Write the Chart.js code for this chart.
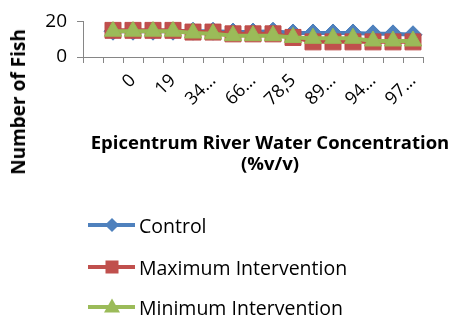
<!DOCTYPE html>
<html><head><meta charset="utf-8">
<script src="https://cdn.jsdelivr.net/npm/chart.js@4.4.0/dist/chart.umd.min.js"></script>
<style>
html,body{margin:0;padding:0;background:#fff;}
#wrap{position:relative;width:452px;height:315px;overflow:hidden;font-family:'Open Sans',sans-serif;color:#000;}
#c{position:absolute;left:0;top:0;}
#ytitle{position:absolute;left:18px;top:102px;transform:translate(-50%,-50%) rotate(-90deg);font-weight:bold;font-size:19px;white-space:nowrap;line-height:22px;}
#xtitle{position:absolute;left:270px;top:131px;transform:translateX(-50%);text-align:center;font-weight:bold;font-size:18.5px;line-height:21px;white-space:nowrap;}
.leg{position:absolute;left:88px;height:28px;display:flex;align-items:center;white-space:nowrap;font-size:19.5px;}
.ln{position:relative;width:47px;height:4px;}
.mk{position:absolute;left:50%;top:50%;}
.tx{margin-left:4px;}
</style>
</head><body>
<div id="wrap">
<canvas id="c" width="452" height="315"></canvas>
<div id="ytitle"></div>
<div id="xtitle"></div>
<div id="legend"></div>
</div>
<script>
// ---- data ----
const categories = ['', '', '0', '', '19', '', '34…', '', '66…', '', '78,5', '', '89…', '', '94…', '', '97…'];
const seriesNames = ['Control', 'Maximum Intervention', 'Minimum Intervention'];
const control =         [null, 14.5, 14.5, 14.5, 14.5, 14.5, 14.5, 14, 14, 14.5, 13.5, 13.5, 13.5, 13.5, 13, 13, 12.5];
const maxIntervention = [null, 15, 15, 15, 15, 14, 14, 13, 13, 13, 11, 8.5, 8.5, 8.5, 8.5, 8.5, 8.5];
const minIntervention = [null, 14.5, 14.5, 14.5, 14.5, 13.5, 13, 12, 12, 12, 11, 10.5, 10.5, 10.5, 9, 9, 9];
const yTicks = [0, 20];
const yAxisTitle = 'Number of Fish';
const xAxisTitle = ['Epicentrum River Water Concentration', '(%v/v)'];

// ---- styling ----
const colors = ['#4F81BD', '#C0504D', '#9BBB59'];
const borders = ['#4A7EBB', '#BE4B48', '#98B954'];
const styles = ['rectRot', 'rect', 'triangle'];
const radii = [9, 11.3, 10];
const axisColor = '#868686';

const datasets = [control, maxIntervention, minIntervention].map((d, i) => ({
  label: seriesNames[i],
  data: d,
  borderColor: borders[i],
  backgroundColor: colors[i],
  pointBackgroundColor: colors[i],
  pointBorderColor: borders[i],
  pointBorderWidth: 1,
  pointStyle: styles[i],
  pointRadius: radii[i],
  borderWidth: 4,
  tension: 0,
  order: 2 - i
}));

new Chart(document.getElementById('c'), {
  type: 'line',
  data: { labels: categories, datasets },
  options: {
    responsive: false,
    devicePixelRatio: 1,
    animation: false,
    layout: { padding: { top: 20, right: 29, left: 0, bottom: 0 } },
    plugins: { legend: { display: false }, tooltip: { enabled: false } },
    scales: {
      x: {
        type: 'category',
        offset: true,
        grid: { offset: true, drawOnChartArea: false, drawTicks: true, tickLength: 6, color: axisColor },
        border: { display: true, color: axisColor, width: 1 },
        ticks: {
          autoSkip: false, maxRotation: 45, minRotation: 45, padding: 7,
          color: '#000', font: { family: 'Open Sans', size: 18 }
        },
        afterFit: s => { s.height = 258; }
      },
      y: {
        min: yTicks[0], max: yTicks[yTicks.length - 1],
        afterBuildTicks: s => { s.ticks = yTicks.map(v => ({ value: v })); },
        grid: { drawOnChartArea: false, drawTicks: true, tickLength: 6, color: axisColor },
        border: { display: true, color: axisColor, width: 1 },
        ticks: { padding: 10, color: '#000', font: { family: 'Open Sans', size: 19 } },
        afterFit: s => { s.width = 83; }
      }
    }
  }
});

document.getElementById('ytitle').textContent = yAxisTitle;
document.getElementById('xtitle').innerHTML = xAxisTitle.map(t => '<div>' + t + '</div>').join('');

const legendTops = [211, 253, 293];
const legend = document.getElementById('legend');
seriesNames.forEach((name, i) => {
  const row = document.createElement('div');
  row.className = 'leg';
  row.style.top = legendTops[i] + 'px';
  const ln = document.createElement('div');
  ln.className = 'ln';
  ln.style.background = colors[i];
  const mk = document.createElement('div');
  mk.className = 'mk';
  if (styles[i] === 'rectRot') {
    Object.assign(mk.style, { width: '10px', height: '10px', background: colors[i], transform: 'translate(-50%,-50%) rotate(45deg)' });
  } else if (styles[i] === 'rect') {
    Object.assign(mk.style, { width: '13px', height: '13px', background: colors[i], transform: 'translate(-50%,-50%)' });
  } else {
    Object.assign(mk.style, { width: '0', height: '0', borderLeft: '8px solid transparent', borderRight: '8px solid transparent', borderBottom: '14px solid ' + colors[i], transform: 'translate(-50%,-60%)' });
  }
  ln.appendChild(mk);
  const tx = document.createElement('span');
  tx.className = 'tx';
  tx.textContent = name;
  row.appendChild(ln);
  row.appendChild(tx);
  legend.appendChild(row);
});
</script>
</body></html>
